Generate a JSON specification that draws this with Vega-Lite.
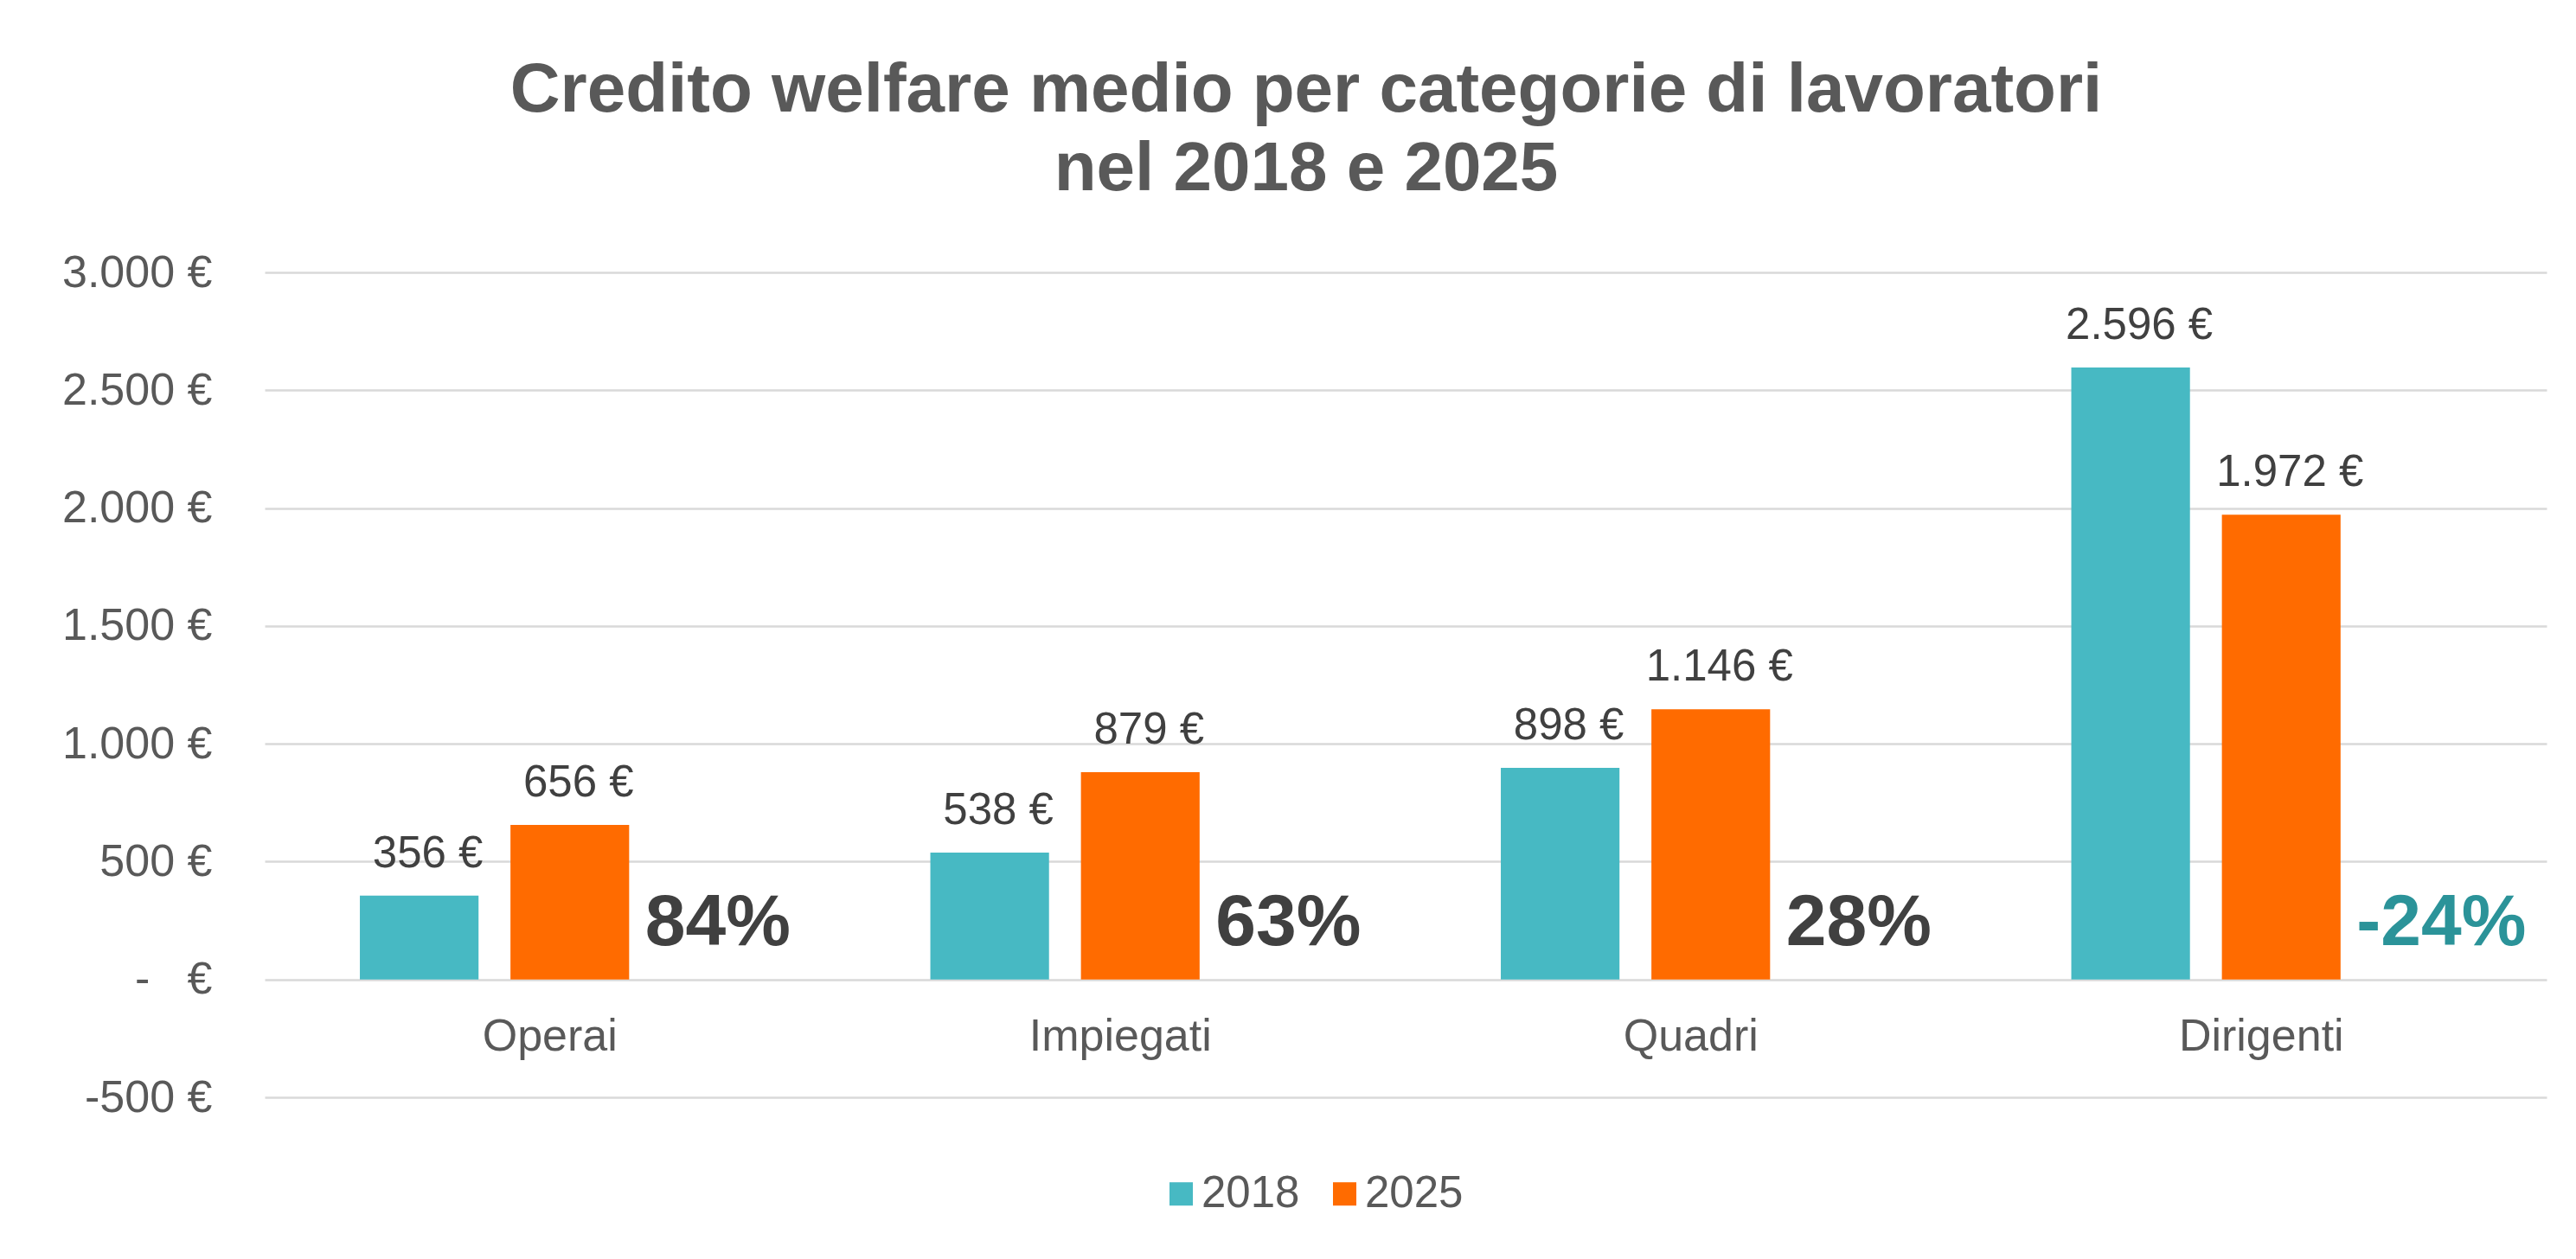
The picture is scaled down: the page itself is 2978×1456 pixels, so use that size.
{
  "$schema": "https://vega.github.io/schema/vega-lite/v6.json",
  "width": 2638,
  "height": 954,
  "autosize": {"type": "none"},
  "padding": {"left": 306, "top": 315, "right": 34, "bottom": 187},
  "background": "white",
  "config": {
    "locale": {"number": {"decimal": ",", "thousands": ".", "grouping": [3], "currency": ["", " €"], "minus": "-", "percent": "%"}},
    "font": "Liberation Sans",
    "view": {"stroke": null}
  },
  "title": {
    "text": ["Credito welfare medio per categorie di lavoratori", "nel 2018 e 2025"],
    "font": "Liberation Sans",
    "fontSize": 80,
    "fontWeight": "bold",
    "color": "#595959",
    "anchor": "middle",
    "baseline": "alphabetic",
    "lineHeight": 91,
    "offset": 92,
    "dy": 103,
    "dx": -115
  },
  "datasets": {
    "valori": [
      {"categoria": "Operai", "anno": "2018", "valore": 356},
      {"categoria": "Operai", "anno": "2025", "valore": 656},
      {"categoria": "Impiegati", "anno": "2018", "valore": 538},
      {"categoria": "Impiegati", "anno": "2025", "valore": 879},
      {"categoria": "Quadri", "anno": "2018", "valore": 898},
      {"categoria": "Quadri", "anno": "2025", "valore": 1146},
      {"categoria": "Dirigenti", "anno": "2018", "valore": 2596},
      {"categoria": "Dirigenti", "anno": "2025", "valore": 1972}
    ],
    "variazioni": [
      {"categoria": "Operai", "variazione": 0.84},
      {"categoria": "Impiegati", "variazione": 0.63},
      {"categoria": "Quadri", "variazione": 0.28},
      {"categoria": "Dirigenti", "variazione": -0.24}
    ]
  },
  "layer": [
    {
      "data": {"name": "valori"},
      "mark": {"type": "bar"},
      "encoding": {
        "x": {
          "field": "categoria", "type": "nominal",
          "sort": ["Operai", "Impiegati", "Quadri", "Dirigenti"],
          "scale": {"paddingInner": 0, "paddingOuter": 0},
          "axis": {"title": null, "domain": false, "ticks": false, "tickSize": 0, "labelPadding": 40, "labelFontSize": 52, "labelLimit": 0, "labelColor": "#595959", "labelAngle": 0, "offset": -136, "grid": false}
        },
        "xOffset": {"field": "anno", "type": "nominal", "scale": {"domain": ["2018", "2025"], "paddingInner": 0.212, "paddingOuter": 1.364, "align": 0.316}},
        "y": {
          "field": "valore", "type": "quantitative",
          "scale": {"domain": [-500, 3000], "nice": false, "zero": false},
          "axis": {"title": null, "values": [-500, 0, 500, 1000, 1500, 2000, 2500, 3000], "format": "$,.0f", "labelExpr": "datum.value == 0 ? '-\u00a0\u00a0\u00a0€' : datum.label", "domain": false, "ticks": false, "tickSize": 0, "labelPadding": 61, "labelFontSize": 52, "labelColor": "#595959", "gridColor": "#D9D9D9", "gridWidth": 2.5}
        },
        "color": {
          "field": "anno", "type": "nominal",
          "scale": {"domain": ["2018", "2025"], "range": ["#47B9C3", "#FF6B00"]},
          "legend": {"orient": "none", "legendX": 1034, "legendY": 1040, "direction": "horizontal", "title": null, "symbolType": "square", "symbolSize": 729, "symbolStrokeWidth": 0, "labelFontSize": 51, "labelColor": "#595959", "labelOffset": -2, "columnPadding": 26}
        }
      }
    },
    {
      "data": {"name": "valori"},
      "mark": {"type": "text", "baseline": "alphabetic", "dy": -33, "dx": 10, "fontSize": 51, "color": "#404040"},
      "encoding": {
        "x": {"field": "categoria", "type": "nominal", "sort": ["Operai", "Impiegati", "Quadri", "Dirigenti"]},
        "xOffset": {"field": "anno", "type": "nominal"},
        "y": {"field": "valore", "type": "quantitative"},
        "text": {"field": "valore", "type": "quantitative", "format": "$,.0f"}
      }
    },
    {
      "data": {"name": "variazioni"},
      "mark": {"type": "text", "align": "left", "dx": 110, "baseline": "middle", "fontSize": 84, "fontWeight": "bold"},
      "encoding": {
        "x": {"field": "categoria", "type": "nominal", "sort": ["Operai", "Impiegati", "Quadri", "Dirigenti"]},
        "y": {"datum": 237, "type": "quantitative"},
        "text": {"field": "variazione", "type": "quantitative", "format": ".0%"},
        "color": {"condition": {"test": "datum.variazione < 0", "value": "#2B9399"}, "value": "#404040"}
      }
    }
  ]
}
